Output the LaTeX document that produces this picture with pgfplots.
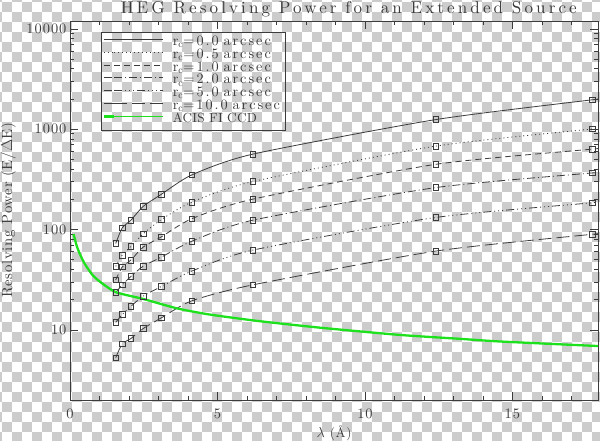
\documentclass[border=0pt]{standalone}
\usepackage{graphicx}
\usepackage{fontspec}
\usepackage{pgfplots}
\pgfplotsset{compat=1.18}
\newfontfamily\lmTick{lmroman10-regular}[Extension=.otf, LetterSpace=7]
\newfontfamily\lmLab{lmroman10-regular}[Extension=.otf, LetterSpace=5]
\newfontfamily\lmTit{lmroman10-regular}[Extension=.otf, LetterSpace=18]
\newfontfamily\lmLeg{lmroman10-regular}[Extension=.otf, LetterSpace=14]
\newfontfamily\lmPlain{lmroman10-regular}[Extension=.otf, LetterSpace=2]
\definecolor{checkgray}{RGB}{204,204,204}
\definecolor{acis}{RGB}{30,225,30}
\definecolor{ink}{RGB}{60,60,60}
\newcommand{\tickfont}{\lmTick\fontsize{14.5}{16}\selectfont}
\newcommand{\labfont}{\lmLab\fontsize{16}{18}\selectfont}
\newcommand{\titfont}{\lmTit\fontsize{18.5}{20}\selectfont}
\newcommand{\legfont}{\lmLeg\fontsize{14.5}{16}\selectfont}
\newcommand{\rc}[2]{\resizebox{#1bp}{!}{r\textsubscript{c}=#2 arcsec}}
\begin{document}
\begin{tikzpicture}[x=1bp,y=1bp]
\path[use as bounding box] (0,0) rectangle (600,441);
\fill[white] (0,0) rectangle (600,441);
\foreach \i in {0,...,60}{%
  \foreach \j in {0,...,45}{%
    \pgfmathtruncatemacro\k{mod(\i+\j,2)}%
    \ifnum\k=0
      \fill[checkgray] ({\i*10-8.3},{449.3-\j*10}) rectangle ++(10,-10);
    \fi
  }%
}
\begin{axis}[
  at={(70bp,41bp)}, anchor=south west, scale only axis,
  width=528bp, height=379bp,
  xmin=0, xmax=17.9,
  ymode=log, ymin=2, ymax=12000,
  xtick={0,5,10,15}, xticklabels={0,5,10,15},
  minor xtick={1,2,3,4,6,7,8,9,11,12,13,14,16,17},
  ytick={10,100,1000,10000}, yticklabels={10,100,1000,10000},
  xtick pos=both, ytick pos=both,
  xticklabel pos=lower, yticklabel pos=left,
  tick align=inside,
  major tick length=8bp, minor tick length=4bp,
  axis line style={draw=ink, line width=0.8bp},
  every tick/.style={draw=ink, line width=0.7bp},
  tick label style={font=\tickfont, text=ink},
  xticklabel style={yshift=-5bp},
  every axis title shift=0pt,
  title={\resizebox{456bp}{!}{HEG Resolving Power for an Extended Source}},
  title style={font=\titfont, text=ink, inner sep=0pt, at={(axis description cs:0.528,1.0205)}, anchor=base},
  xlabel={\resizebox{35bp}{!}{$\lambda$ (\AA)}},
  xlabel style={font=\labfont, text=ink, inner sep=0pt, at={(axis description cs:0.5,-0.068)}, anchor=north},
  ylabel={\resizebox{175bp}{!}{Resolving Power (E/$\Delta$E)}},
  ylabel style={font=\labfont, text=ink, inner sep=0pt, at={(axis description cs:-0.1167,0.5)}, anchor=center},
  legend cell align=left,
  legend style={at={(axis description cs:0.0581,0.970)}, anchor=north west,
    draw=ink, line width=0.7bp, fill=none, font=\legfont, text=ink,
    inner xsep=1.5bp, inner ysep=3.5bp, row sep=0pt,
    nodes={inner sep=0pt, text height=9bp, text depth=3.9bp, text width=110.8bp, align=left},
    /tikz/every odd column/.append style={column sep=9bp, text width=}},
  legend image code/.code={\path (0bp,3.5bp) -- (10.8bp,3.5bp);
     \draw[#1,mark=none,line width=0.8bp] (10.8bp,3.5bp) -- (59.8bp,3.5bp);},
  every axis plot/.append style={line width=0.8bp},
]
\pgfplotsset{mystyle/.style={draw=ink, smooth, tension=0.4, mark=square, mark size=2.8bp,
   mark indices={1,2,3,4,5,6,7,8,9},
   mark options={solid, draw=ink, fill=none, line width=0.6bp}}}
\addplot[mystyle] coordinates {
(1.550,72.6) (1.771,104) (2.066,124) (2.480,170) (3.100,225) (4.133,351) (6.199,565) (12.398,1248) (17.712,1968) (17.9,2000)};
\addlegendentry{\rc{98}{0.0}}
\addplot[mystyle, dash pattern=on 1bp off 3bp] coordinates {
(1.550,43) (1.771,55.7) (2.066,67.9) (2.480,90.6) (3.100,126) (4.133,188) (6.199,301) (12.398,679) (17.712,1007) (17.9,1020)};
\addlegendentry{\rc{98}{0.5}}
\addplot[mystyle, dash pattern=on 6bp off 4bp] coordinates {
(1.550,31.5) (1.771,42.4) (2.066,49.7) (2.480,66.8) (3.100,84.7) (4.133,128.5) (6.199,201) (12.398,447) (17.712,634) (17.9,642)};
\addlegendentry{\rc{98}{1.0}}
\addplot[mystyle, dash pattern=on 8bp off 3bp on 1bp off 3bp] coordinates {
(1.550,23.6) (1.771,28.1) (2.066,34.1) (2.480,43.1) (3.100,53.2) (4.133,76.6) (6.199,124) (12.398,262) (17.712,367) (17.9,372)};
\addlegendentry{\rc{98}{2.0}}
\addplot[mystyle, dash pattern=on 8bp off 3bp on 1bp off 3bp on 1bp off 3bp on 1bp off 3bp] coordinates {
(1.550,11.9) (1.771,14.2) (2.066,17.2) (2.480,21.7) (3.100,27.1) (4.133,38.6) (6.199,62.4) (12.398,132) (17.712,185) (17.9,188)};
\addlegendentry{\rc{98}{5.0}}
\addplot[mystyle, dash pattern=on 13bp off 5bp] coordinates {
(1.550,5.28) (1.771,7.26) (2.066,8.2) (2.480,10.3) (3.100,13.2) (4.133,19.5) (6.199,28.1) (12.398,61) (17.712,89.8) (17.9,91)};
\addlegendentry{\rc{107}{10.0}}
\addplot[acis, line width=2.3bp, smooth, tension=0.4, mark=none] coordinates {
(0.12,90) (0.17,79.6) (0.23,68.4) (0.34,56.5) (0.51,45) (0.79,34.5) (1.13,28.5) (1.58,23.6) (2.49,20.3) (3.62,16.4) (4.75,14.2) (6.44,12.2) (8.5,10.5) (11.19,8.9) (13.2,8.15) (14.58,7.66) (17.9,6.9)};
\addlegendentry{\resizebox{84bp}{!}{\lmPlain ACIS FI CCD}}
\end{axis}
\end{tikzpicture}
\end{document}
